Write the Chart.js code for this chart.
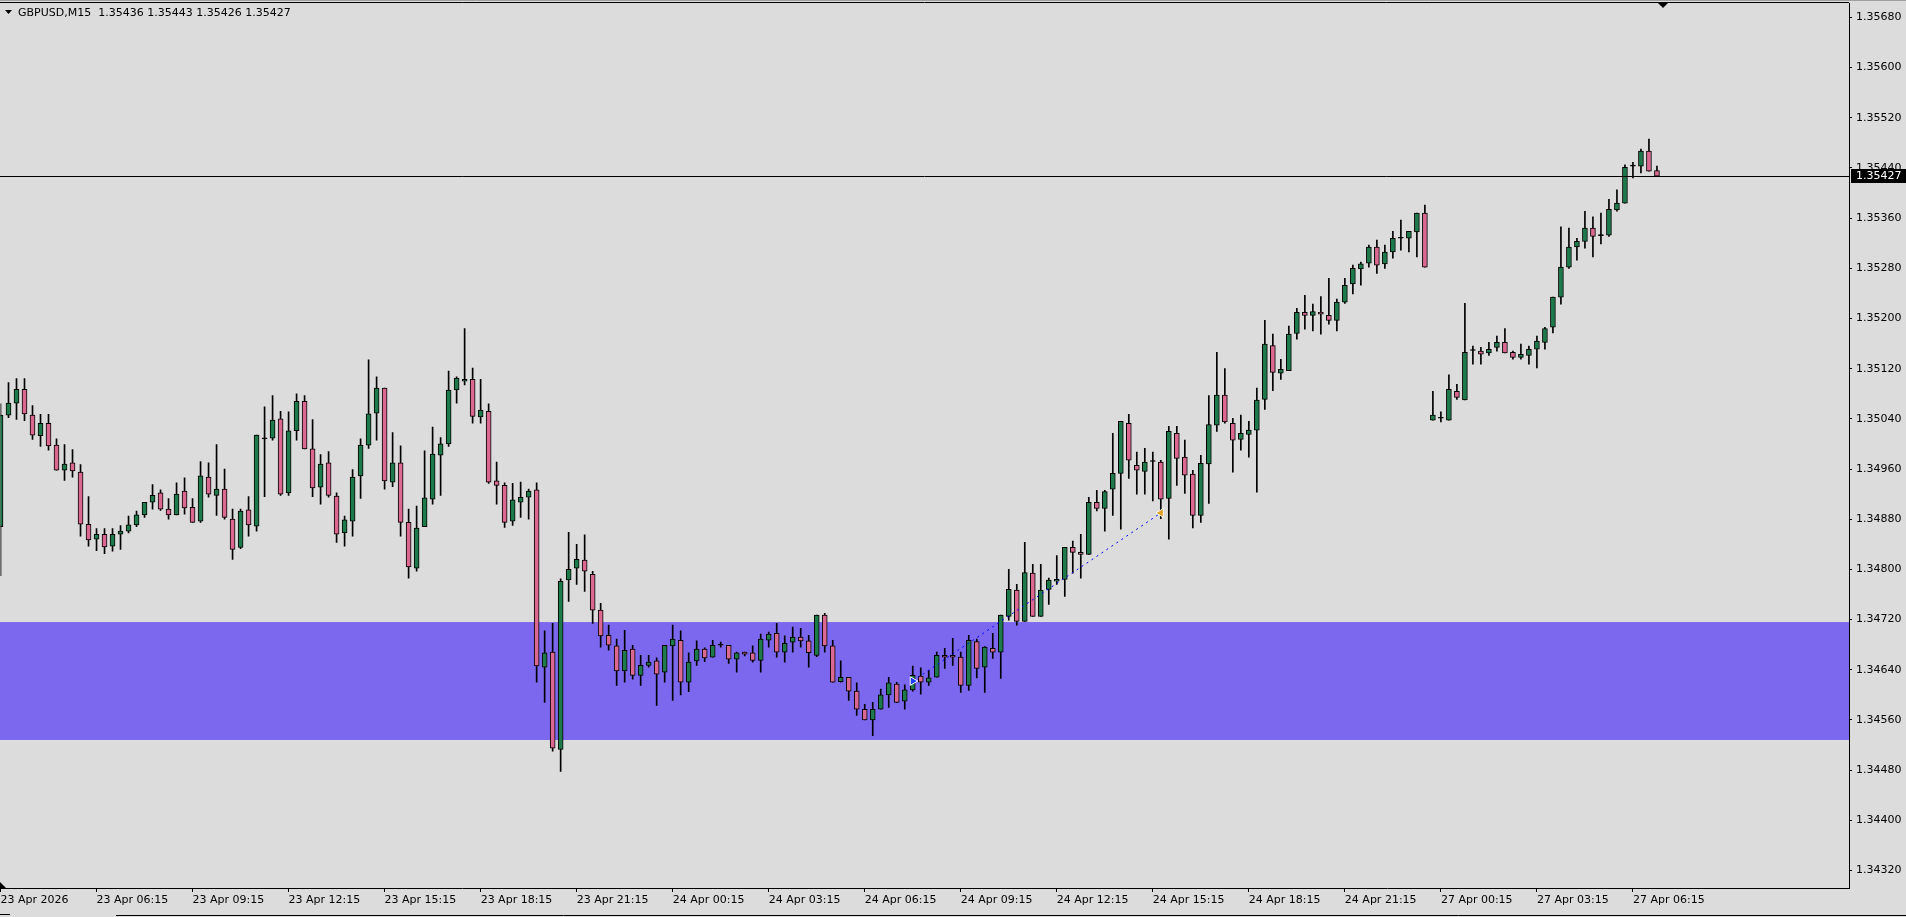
<!DOCTYPE html>
<html lang="en">

<head>
  <meta charset="UTF-8" />
  <title>GBPUSD,M15</title>
  <style>
    * {
      margin: 0;
      padding: 0;
      box-sizing: border-box;
    }

    body {
      background-color: #DCDCDC;
      width: 1906px;
      height: 917px;
      overflow: hidden;
    }

    #chartBox {
      position: relative;
      width: 1906px;
      height: 917px;
    }

    #chartCandles {
      display: block;
    }
  </style>
</head>

<body>
  <div id="chartBox">
    <canvas id="chartCandles" width="1906" height="917"></canvas>
  </div>

  <script src="https://cdn.jsdelivr.net/npm/chart.js"></script>

  <script>
    // GBPUSD M15, one value per bar (oldest first)
    const opens = [
      1.34868, 1.35046, 1.35065, 1.35087, 1.35046, 1.35013, 1.35033, 1.34998, 1.34958, 1.34970,
      1.34955, 1.34872, 1.34848, 1.34856, 1.34837, 1.34856, 1.34861, 1.34871, 1.34887, 1.34907,
      1.34922, 1.34896, 1.34887, 1.34925, 1.34899, 1.34877, 1.34947, 1.34918, 1.34928, 1.34880,
      1.34835, 1.34895, 1.34869, 1.35008, 1.35009, 1.35040, 1.34922, 1.35021, 1.35068, 1.34992,
      1.34931, 1.34970, 1.34917, 1.34858, 1.34877, 1.34949, 1.34998, 1.35049, 1.35089, 1.34939,
      1.34970, 1.34875, 1.34802, 1.34868, 1.34912, 1.34982, 1.35000, 1.35086, 1.35100, 1.35103,
      1.35043, 1.35052, 1.34941, 1.34934, 1.34877, 1.34907, 1.34915, 1.34927, 1.34644, 1.34668,
      1.34513, 1.34783, 1.34802, 1.34815, 1.34792, 1.34735, 1.34695, 1.34678, 1.34638, 1.34673,
      1.34631, 1.34647, 1.34654, 1.34636, 1.34678, 1.34687, 1.34620, 1.34654, 1.34673, 1.34660,
      1.34679, 1.34679, 1.34657, 1.34668, 1.34667, 1.34655, 1.34687, 1.34698, 1.34668, 1.34684,
      1.34692, 1.34686, 1.34663, 1.34727, 1.34678, 1.34621, 1.34628, 1.34606, 1.34577, 1.34560,
      1.34577, 1.34600, 1.34617, 1.34590, 1.34608, 1.34630, 1.34620, 1.34628, 1.34663, 1.34663,
      1.34660, 1.34615, 1.34685, 1.34644, 1.34674, 1.34668, 1.34725, 1.34767, 1.34717, 1.34794,
      1.34725, 1.34768, 1.34781, 1.34784, 1.34835, 1.34827, 1.34824, 1.34907, 1.34897, 1.34928,
      1.34953, 1.35033, 1.34966, 1.34956, 1.34972, 1.34971, 1.34913, 1.35017, 1.34979, 1.34952,
      1.34886, 1.34968, 1.35030, 1.35078, 1.35033, 1.35007, 1.35015, 1.35022, 1.35071, 1.35157,
      1.35113, 1.35117, 1.35176, 1.35210, 1.35205, 1.35210, 1.35205, 1.35197, 1.35226, 1.35255,
      1.35279, 1.35288, 1.35314, 1.35287, 1.35306, 1.35328, 1.35328, 1.35338, 1.35368, 1.35038,
      1.35041, 1.35038, 1.35084, 1.35070, 1.35149, 1.35148, 1.35145, 1.35154, 1.35162, 1.35146,
      1.35138, 1.35141, 1.35151, 1.35162, 1.35186, 1.35234, 1.35282, 1.35314, 1.35323, 1.35344,
      1.35332, 1.35333, 1.35373, 1.35384, 1.35443, 1.35443, 1.35467, 1.35436
    ];

    const highs = [
      1.35064, 1.35098, 1.35104, 1.35104, 1.35061, 1.35047, 1.35047, 1.35008, 1.34999, 1.34991,
      1.34967, 1.34916, 1.34865, 1.34865, 1.34865, 1.34870, 1.34885, 1.34893, 1.34907, 1.34935,
      1.34927, 1.34913, 1.34938, 1.34946, 1.34913, 1.34972, 1.34970, 1.34999, 1.34960, 1.34896,
      1.34896, 1.34916, 1.35014, 1.35059, 1.35077, 1.35052, 1.35051, 1.35080, 1.35077, 1.35039,
      1.34983, 1.34988, 1.34922, 1.34885, 1.34959, 1.35008, 1.35134, 1.35107, 1.35089, 1.35018,
      1.34997, 1.34896, 1.34901, 1.34989, 1.35027, 1.35010, 1.35116, 1.35107, 1.35184, 1.35121,
      1.35103, 1.35064, 1.34971, 1.34938, 1.34937, 1.34939, 1.34928, 1.34938, 1.34702, 1.34714,
      1.34785, 1.34859, 1.34840, 1.34855, 1.34797, 1.34746, 1.34711, 1.34689, 1.34703, 1.34679,
      1.34663, 1.34663, 1.34659, 1.34679, 1.34711, 1.34702, 1.34667, 1.34686, 1.34675, 1.34687,
      1.34684, 1.34679, 1.34668, 1.34668, 1.34678, 1.34697, 1.34700, 1.34714, 1.34694, 1.34708,
      1.34706, 1.34695, 1.34727, 1.34730, 1.34687, 1.34654, 1.34628, 1.34619, 1.34585, 1.34588,
      1.34609, 1.34628, 1.34620, 1.34616, 1.34646, 1.34643, 1.34639, 1.34668, 1.34674, 1.34690,
      1.34668, 1.34695, 1.34689, 1.34677, 1.34698, 1.34727, 1.34800, 1.34776, 1.34843, 1.34808,
      1.34808, 1.34786, 1.34822, 1.34835, 1.34845, 1.34856, 1.34915, 1.34926, 1.34926, 1.35017,
      1.35036, 1.35047, 1.34987, 1.34993, 1.34987, 1.34974, 1.35028, 1.35028, 1.35006, 1.34958,
      1.34982, 1.35077, 1.35146, 1.35120, 1.35041, 1.35046, 1.35036, 1.35089, 1.35197, 1.35175,
      1.35135, 1.35188, 1.35216, 1.35237, 1.35223, 1.35235, 1.35264, 1.35231, 1.35264, 1.35285,
      1.35290, 1.35317, 1.35325, 1.35317, 1.35339, 1.35357, 1.35339, 1.35368, 1.35381, 1.35084,
      1.35051, 1.35110, 1.35095, 1.35224, 1.35156, 1.35154, 1.35162, 1.35172, 1.35184, 1.35148,
      1.35159, 1.35156, 1.35172, 1.35186, 1.35234, 1.35346, 1.35344, 1.35328, 1.35371, 1.35362,
      1.35368, 1.35390, 1.35405, 1.35445, 1.35449, 1.35470, 1.35486, 1.35443
    ];

    const lows = [
      1.34790, 1.35042, 1.35039, 1.35037, 1.35007, 1.34996, 1.34990, 1.34958, 1.34942, 1.34947,
      1.34853, 1.34837, 1.34830, 1.34825, 1.34829, 1.34832, 1.34858, 1.34868, 1.34883, 1.34896,
      1.34894, 1.34880, 1.34887, 1.34888, 1.34875, 1.34875, 1.34915, 1.34886, 1.34880, 1.34816,
      1.34833, 1.34853, 1.34861, 1.34916, 1.35006, 1.34918, 1.34918, 1.35006, 1.34992, 1.34916,
      1.34904, 1.34915, 1.34843, 1.34837, 1.34853, 1.34913, 1.34993, 1.35006, 1.34928, 1.34932,
      1.34853, 1.34786, 1.34797, 1.34868, 1.34904, 1.34918, 1.34996, 1.35065, 1.35094, 1.35033,
      1.35033, 1.34937, 1.34904, 1.34867, 1.34870, 1.34883, 1.34880, 1.34620, 1.34588, 1.34510,
      1.34478, 1.34749, 1.34776, 1.34765, 1.34714, 1.34676, 1.34671, 1.34615, 1.34620, 1.34625,
      1.34615, 1.34644, 1.34583, 1.34620, 1.34591, 1.34600, 1.34605, 1.34647, 1.34653, 1.34660,
      1.34676, 1.34650, 1.34636, 1.34662, 1.34652, 1.34636, 1.34676, 1.34660, 1.34652, 1.34668,
      1.34676, 1.34644, 1.34661, 1.34668, 1.34620, 1.34620, 1.34591, 1.34567, 1.34560, 1.34535,
      1.34577, 1.34580, 1.34588, 1.34577, 1.34606, 1.34601, 1.34615, 1.34628, 1.34642, 1.34647,
      1.34604, 1.34607, 1.34627, 1.34604, 1.34658, 1.34626, 1.34719, 1.34711, 1.34717, 1.34725,
      1.34725, 1.34744, 1.34776, 1.34757, 1.34794, 1.34786, 1.34824, 1.34893, 1.34861, 1.34886,
      1.34864, 1.34945, 1.34920, 1.34920, 1.34909, 1.34881, 1.34848, 1.34934, 1.34921, 1.34866,
      1.34875, 1.34905, 1.35020, 1.35033, 1.34955, 1.34990, 1.34979, 1.34923, 1.35055, 1.35085,
      1.35103, 1.35117, 1.35167, 1.35183, 1.35180, 1.35175, 1.35191, 1.35180, 1.35224, 1.35239,
      1.35253, 1.35282, 1.35272, 1.35280, 1.35296, 1.35309, 1.35306, 1.35298, 1.35282, 1.35038,
      1.35035, 1.35038, 1.35071, 1.35070, 1.35127, 1.35127, 1.35141, 1.35148, 1.35145, 1.35135,
      1.35135, 1.35127, 1.35121, 1.35151, 1.35177, 1.35223, 1.35280, 1.35293, 1.35312, 1.35298,
      1.35319, 1.35331, 1.35371, 1.35384, 1.35424, 1.35432, 1.35435, 1.35426
    ];

    const closes = [
      1.35046, 1.35065, 1.35087, 1.35048, 1.35014, 1.35033, 1.34997, 1.34958, 1.34968, 1.34957,
      1.34872, 1.34847, 1.34856, 1.34836, 1.34856, 1.34861, 1.34871, 1.34887, 1.34907, 1.34918,
      1.34896, 1.34887, 1.34920, 1.34898, 1.34875, 1.34949, 1.34920, 1.34928, 1.34883, 1.34832,
      1.34893, 1.34871, 1.35014, 1.35008, 1.35038, 1.34920, 1.35021, 1.35068, 1.34992, 1.34930,
      1.34968, 1.34918, 1.34856, 1.34879, 1.34947, 1.34998, 1.35048, 1.35089, 1.34941, 1.34970,
      1.34875, 1.34804, 1.34866, 1.34914, 1.34984, 1.35000, 1.35086, 1.35105, 1.35103, 1.35044,
      1.35054, 1.34939, 1.34934, 1.34875, 1.34911, 1.34915, 1.34925, 1.34646, 1.34667, 1.34515,
      1.34781, 1.34800, 1.34816, 1.34797, 1.34735, 1.34694, 1.34679, 1.34638, 1.34671, 1.34631,
      1.34647, 1.34652, 1.34633, 1.34679, 1.34689, 1.34620, 1.34652, 1.34673, 1.34659, 1.34679,
      1.34679, 1.34657, 1.34667, 1.34665, 1.34655, 1.34689, 1.34697, 1.34668, 1.34682, 1.34692,
      1.34686, 1.34667, 1.34727, 1.34678, 1.34620, 1.34628, 1.34606, 1.34577, 1.34560, 1.34577,
      1.34600, 1.34619, 1.34588, 1.34608, 1.34631, 1.34620, 1.34627, 1.34663, 1.34660, 1.34660,
      1.34615, 1.34687, 1.34642, 1.34676, 1.34668, 1.34727, 1.34768, 1.34717, 1.34795, 1.34725,
      1.34767, 1.34783, 1.34784, 1.34835, 1.34827, 1.34824, 1.34907, 1.34897, 1.34924, 1.34953,
      1.35036, 1.34974, 1.34958, 1.34971, 1.34972, 1.34912, 1.35020, 1.34977, 1.34950, 1.34886,
      1.34969, 1.35031, 1.35078, 1.35035, 1.35006, 1.35017, 1.35022, 1.35070, 1.35159, 1.35114,
      1.35119, 1.35175, 1.35210, 1.35205, 1.35211, 1.35207, 1.35197, 1.35226, 1.35253, 1.35280,
      1.35287, 1.35314, 1.35285, 1.35306, 1.35328, 1.35328, 1.35339, 1.35368, 1.35282, 1.35046,
      1.35041, 1.35087, 1.35074, 1.35146, 1.35149, 1.35143, 1.35151, 1.35162, 1.35145, 1.35138,
      1.35143, 1.35151, 1.35164, 1.35184, 1.35234, 1.35282, 1.35314, 1.35323, 1.35344, 1.35331,
      1.35332, 1.35374, 1.35384, 1.35441, 1.35443, 1.35467, 1.35435, 1.35427
    ];

    // one label every 12 bars (3 hours)
    const timeLabels = [
      '23 Apr 2026', '23 Apr 06:15', '23 Apr 09:15', '23 Apr 12:15', '23 Apr 15:15', '23 Apr 18:15',
      '23 Apr 21:15', '24 Apr 00:15', '24 Apr 03:15', '24 Apr 06:15', '24 Apr 09:15', '24 Apr 12:15',
      '24 Apr 15:15', '24 Apr 18:15', '24 Apr 21:15', '27 Apr 00:15', '27 Apr 03:15', '27 Apr 06:15'
    ];
    const labelEvery = 12;
    const shiftBars = 24; // empty space right of the last bar

    const priceTicks = [
      1.34320, 1.34400, 1.34480, 1.34560, 1.34640, 1.34720, 1.34800, 1.34880, 1.34960,
      1.35040, 1.35120, 1.35200, 1.35280, 1.35360, 1.35440, 1.35520, 1.35600, 1.35680
    ];
    const priceMin = 1.34292;
    const priceMax = 1.35703;

    const bidPrice = 1.35427;
    const zoneTop = 1.34716;
    const zoneBottom = 1.34528;

    // trade: open bar / price, close bar / price
    const tradeBars = [114, 145];
    const tradePrices = [1.34622, 1.34890];

    const symbolTitle = 'GBPUSD,M15';

    const bullColor = '#1F7A4B';
    const bearColor = '#DA6891';
    const zoneColor = '#7B68EE';
    const axisFont = { family: 'DejaVu Sans', size: 11 };

    const barCount = opens.length + shiftBars;
    const labels = Array.from({ length: barCount }, (_, i) => i);
    const bodies = opens.map((o, i) => [o, closes[i]]);
    const wicks = lows.map((l, i) => [l, highs[i]]);
    const tradeLine = labels.map(i => {
      const k = tradeBars.indexOf(i);
      return k === -1 ? null : tradePrices[k];
    });

    function bodyColor(ctx) {
      const i = ctx.dataIndex;
      if (opens[i] === closes[i]) return '#000';
      return closes[i] > opens[i] ? bullColor : bearColor;
    }

    function noPadding(scale) {
      scale.paddingTop = 0;
      scale.paddingBottom = 0;
      scale.paddingLeft = 0;
      scale.paddingRight = 0;
    }

    const mtPlugin = {
      id: 'mtDecor',
      beforeDraw(chart) {
        const c = chart.ctx;
        c.save();
        c.fillStyle = '#DCDCDC';
        c.fillRect(0, 0, chart.width, chart.height);
        c.restore();
      },
      beforeDatasetsDraw(chart) {
        const c = chart.ctx;
        const a = chart.chartArea;
        const y = chart.scales.y;
        const t = y.getPixelForValue(zoneTop);
        const b = y.getPixelForValue(zoneBottom);
        c.save();
        c.fillStyle = zoneColor;
        c.fillRect(0, t, a.right, b - t);
        c.restore();
      },
      afterDatasetsDraw(chart) {
        const c = chart.ctx;
        const a = chart.chartArea;
        const y = Math.round(chart.scales.y.getPixelForValue(bidPrice)) + 0.5;
        c.save();
        c.strokeStyle = '#000';
        c.lineWidth = 1;
        c.beginPath();
        c.moveTo(0, y);
        c.lineTo(a.right, y);
        c.stroke();
        c.restore();
      },
      afterDraw(chart) {
        const c = chart.ctx;
        const a = chart.chartArea;
        const yb = Math.round(chart.scales.y.getPixelForValue(bidPrice));
        c.save();
        // frame top
        c.strokeStyle = '#000';
        c.lineWidth = 1;
        c.beginPath();
        c.moveTo(0, 2.5);
        c.lineTo(a.right, 2.5);
        c.stroke();
        c.strokeStyle = '#A0A0A0';
        c.beginPath();
        c.moveTo(0, 0.5);
        c.lineTo(chart.width, 0.5);
        c.stroke();
        // bottom window edge
        c.strokeStyle = '#000';
        c.beginPath();
        c.moveTo(116, 915.5);
        c.lineTo(chart.width, 915.5);
        c.moveTo(0, 914.5);
        c.lineTo(10, 914.5);
        c.stroke();

        // bid label on the price axis
        c.fillStyle = '#000';
        c.fillRect(a.right + 2, yb - 7, chart.width - a.right - 2, 14);
        c.fillStyle = '#FFF';
        c.font = '11px "DejaVu Sans"';
        c.textBaseline = 'middle';
        c.textAlign = 'left';
        c.fillText(bidPrice.toFixed(5), a.right + 7, yb + 0.5);

        // title
        c.fillStyle = '#000';
        const last = opens.length - 1;
        const title = symbolTitle + '  ' + [opens[last], highs[last], lows[last], closes[last]]
          .map(v => v.toFixed(5)).join(' ');
        c.fillText(title, 18, 13);

        // small markers
        c.beginPath();
        c.moveTo(5, 10);
        c.lineTo(12, 10);
        c.lineTo(8.5, 14);
        c.closePath();
        c.fill();
        c.beginPath();
        c.moveTo(1658, 3);
        c.lineTo(1668, 3);
        c.lineTo(1663, 8);
        c.closePath();
        c.fill();
        c.beginPath();
        c.moveTo(0, 882);
        c.lineTo(6, 888);
        c.lineTo(0, 888);
        c.closePath();
        c.fill();
        c.restore();
      }
    };

    new Chart(document.getElementById('chartCandles'), {
      type: 'bar',
      data: {
        labels,
        datasets: [
          {
            type: 'line',
            label: 'trade',
            data: tradeLine,
            spanGaps: true,
            borderColor: '#0000FF',
            borderWidth: 1,
            borderDash: [2, 4],
            pointStyle: 'triangle',
            pointRotation: ctx => ctx.dataIndex === tradeBars[0] ? 90 : -90,
            pointRadius: 5,
            pointBackgroundColor: ctx => ctx.dataIndex === tradeBars[0] ? '#1E3CFF' : '#E0A020',
            pointBorderColor: '#FFF',
            pointBorderWidth: 1,
            order: 0
          },
          {
            label: 'body',
            data: bodies,
            grouped: false,
            barThickness: 5,
            minBarLength: 1,
            borderWidth: 1,
            borderColor: '#000',
            borderSkipped: false,
            backgroundColor: bodyColor,
            order: 1
          },
          {
            label: 'wick',
            data: wicks,
            grouped: false,
            barThickness: 1,
            borderWidth: 0,
            backgroundColor: '#000',
            order: 2
          }
        ]
      },
      options: {
        responsive: false,
        animation: false,
        devicePixelRatio: 1,
        layout: {
          autoPadding: false,
          padding: { top: 3, left: 0.5, right: 0, bottom: 0 }
        },
        plugins: {
          legend: { display: false },
          tooltip: { enabled: false }
        },
        scales: {
          x: {
            type: 'category',
            offset: false,
            grid: {
              offset: false,
              drawOnChartArea: false,
              drawTicks: true,
              tickLength: 4,
              color: '#000'
            },
            border: { display: true, color: '#000' },
            ticks: {
              autoSkip: false,
              maxRotation: 0,
              minRotation: 0,
              align: 'start',
              padding: 2,
              color: '#000',
              font: axisFont,
              callback: (v, i) => (i % labelEvery === 0 && timeLabels[i / labelEvery]) ? timeLabels[i / labelEvery] : null
            },
            afterFit(scale) {
              scale.height = 29;
              noPadding(scale);
            }
          },
          y: {
            type: 'linear',
            position: 'right',
            min: priceMin,
            max: priceMax,
            grid: {
              drawOnChartArea: false,
              tickLength: 3,
              color: '#000'
            },
            border: { display: true, color: '#000' },
            ticks: {
              padding: 4,
              color: '#000',
              font: axisFont,
              callback: v => v.toFixed(5)
            },
            afterBuildTicks(scale) {
              scale.ticks = priceTicks.map(value => ({ value }));
            },
            afterFit(scale) {
              scale.width = 57;
              noPadding(scale);
            }
          }
        }
      },
      plugins: [mtPlugin]
    });
  </script>
</body>

</html>
